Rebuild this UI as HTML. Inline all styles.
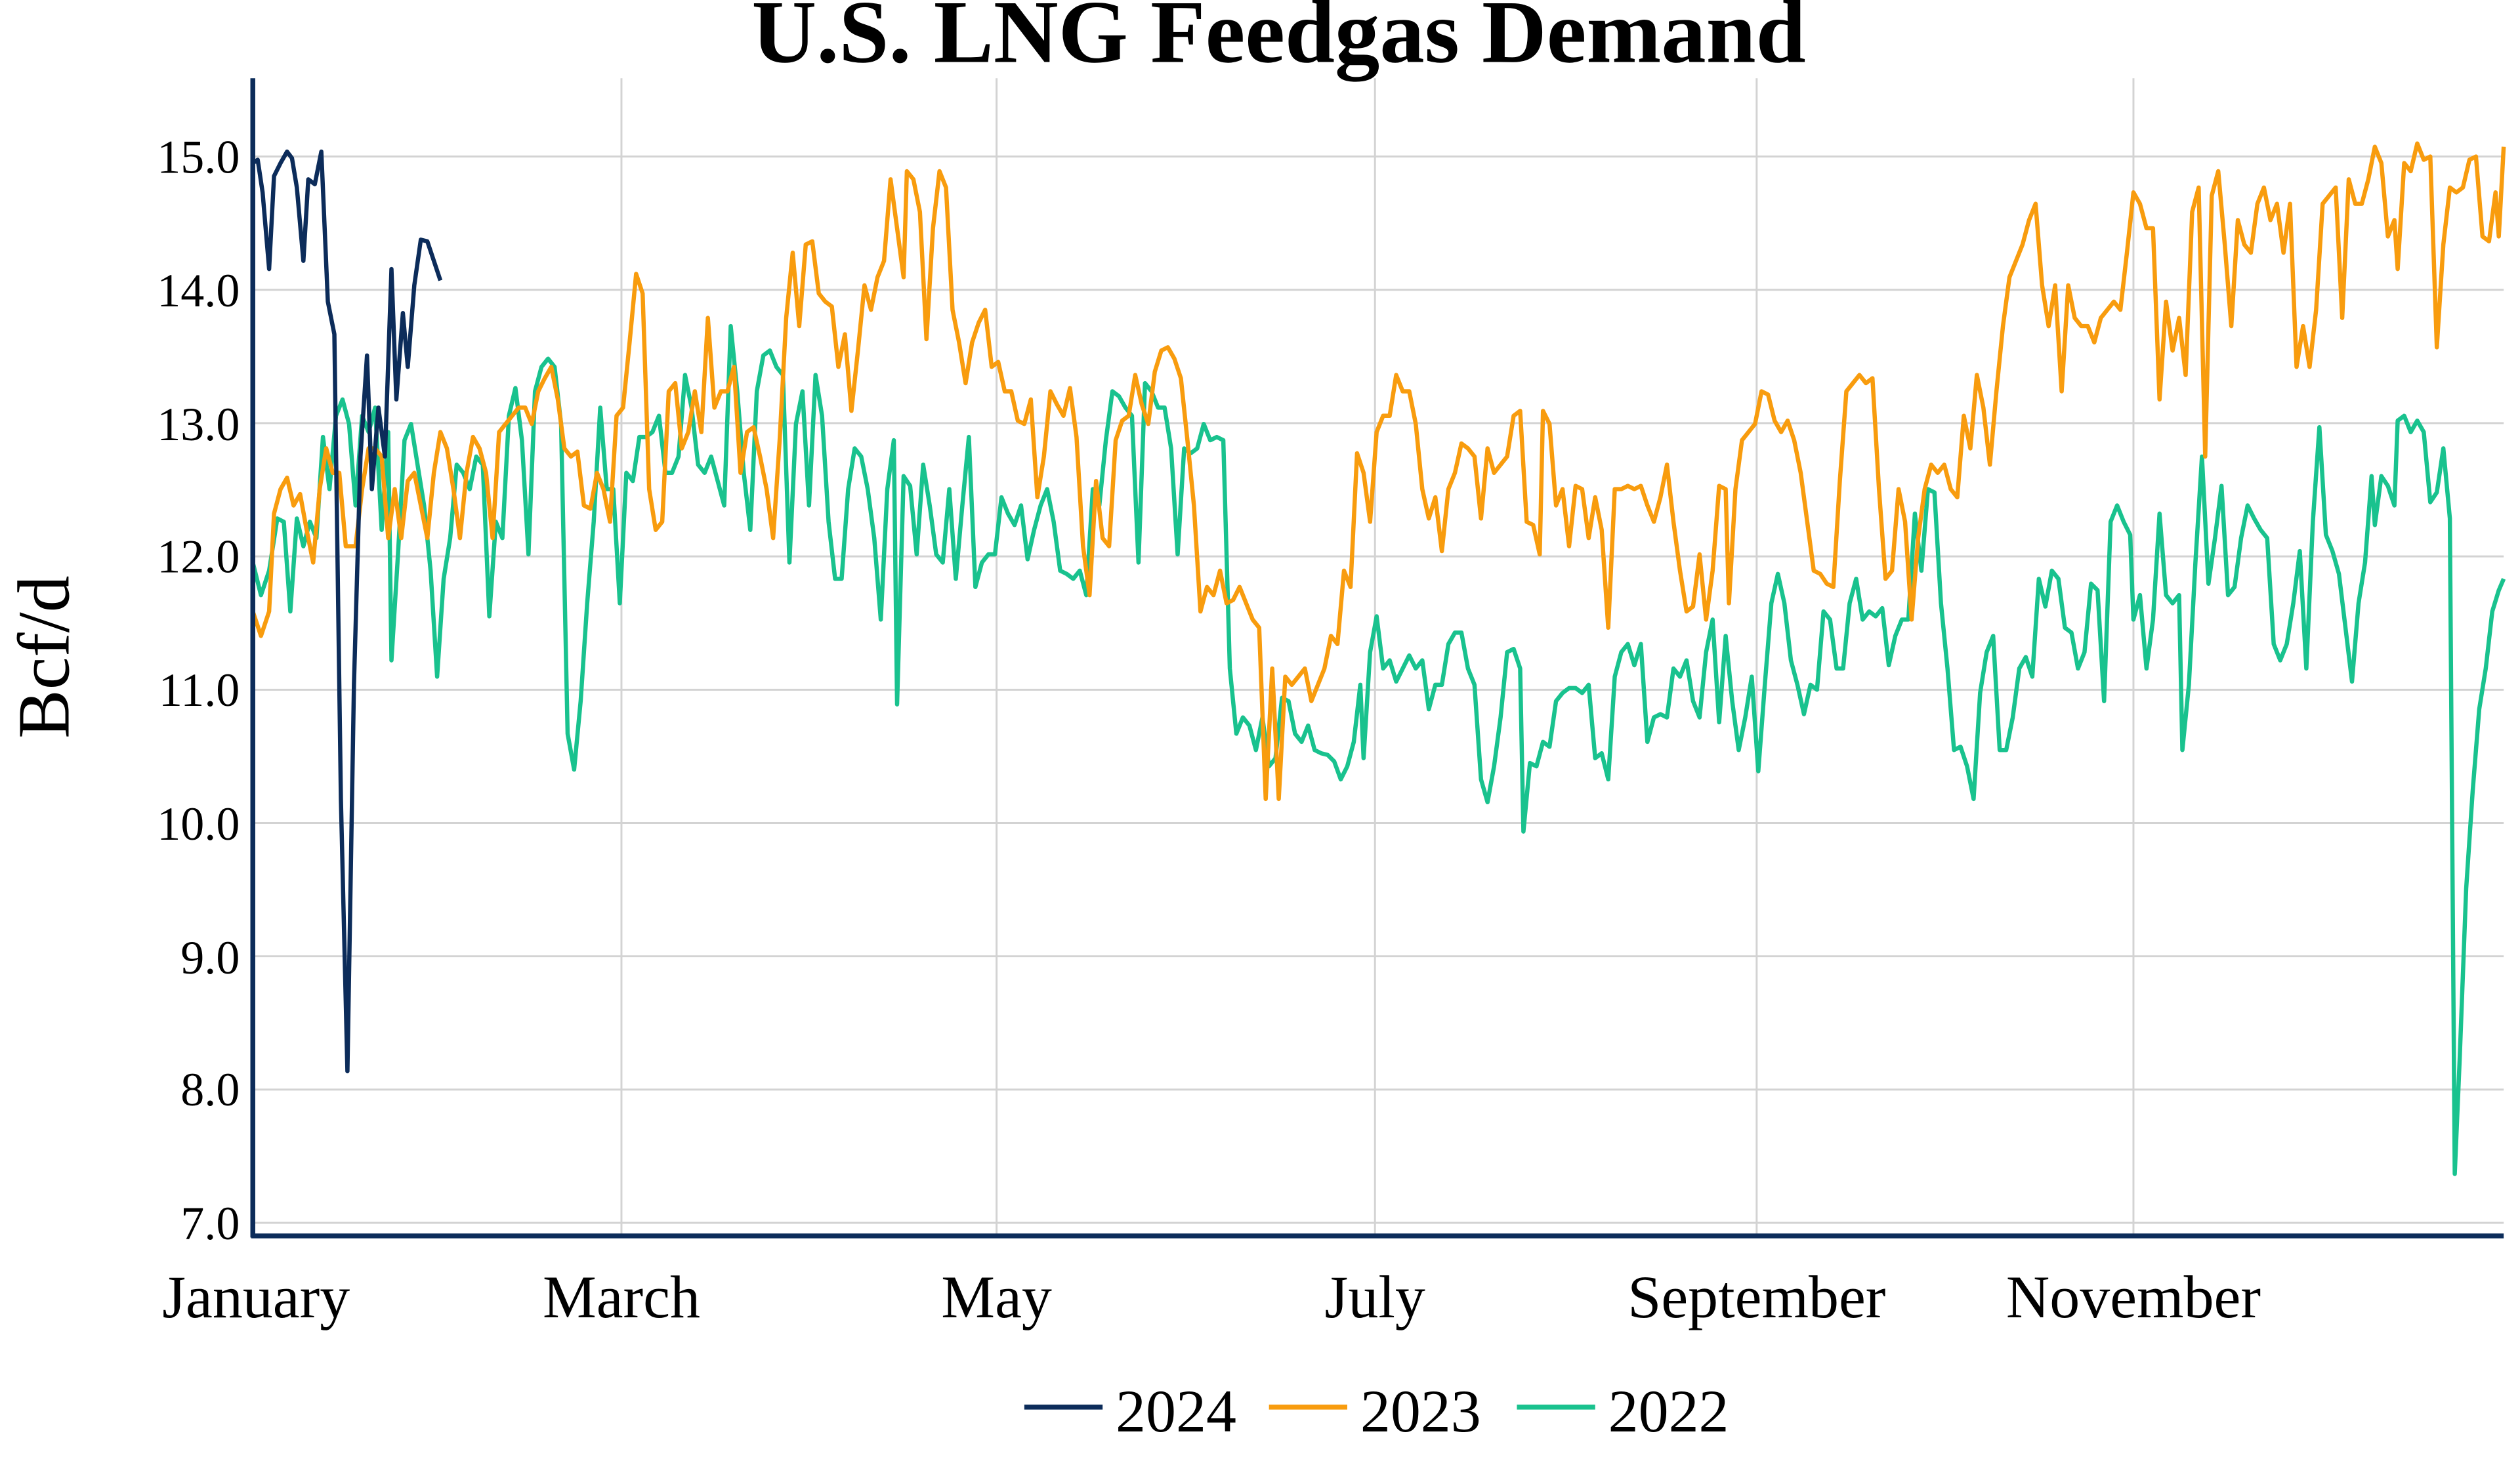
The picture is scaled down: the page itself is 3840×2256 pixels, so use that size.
<!DOCTYPE html>
<html><head><meta charset="utf-8"><style>html,body{margin:0;padding:0;background:#fff}svg{display:block}</style></head>
<body>
<svg width="3840" height="2256" viewBox="0 0 1545 907.7" preserveAspectRatio="none" xmlns="http://www.w3.org/2000/svg" font-family="Liberation Serif, serif">
<rect width="1545" height="907.7" fill="#fff"/>
<g stroke="#d3d3d3" stroke-width="1.2">
<line x1="155" x2="1535" y1="96" y2="96"/><line x1="155" x2="1535" y1="177.75" y2="177.75"/><line x1="155" x2="1535" y1="259.5" y2="259.5"/><line x1="155" x2="1535" y1="341.25" y2="341.25"/><line x1="155" x2="1535" y1="423" y2="423"/><line x1="155" x2="1535" y1="504.75" y2="504.75"/><line x1="155" x2="1535" y1="586.5" y2="586.5"/><line x1="155" x2="1535" y1="668.25" y2="668.25"/><line x1="155" x2="1535" y1="750" y2="750"/>
<line x1="381" x2="381" y1="48" y2="758"/><line x1="611" x2="611" y1="48" y2="758"/><line x1="843" x2="843" y1="48" y2="758"/><line x1="1077" x2="1077" y1="48" y2="758"/><line x1="1308" x2="1308" y1="48" y2="758"/>
</g>
<g fill="none" stroke-width="2.6" stroke-linejoin="round">
<polyline stroke="#19c28e" points="155,345 160,365 165,350 170,318 174,320 178,375 182,318 186,335 190,320 194,330 198,268 202,300 206,255 210,245 214,260 218,310 222,255 226,265 230,250 234,325 238,265 240,405 244,340 248,270 252,260 256,285 260,310 264,350 268,415 272,355 276,330 280,285 284,290 288,300 292,280 296,285 300,378 304,320 308,330 312,255 316,238 320,270 324,340 328,240 332,225 336,220 340,225 344,260 348,450 352,472 356,430 360,370 364,320 368,250 372,300 376,300 380,370 384,290 388,295 392,268 396,268 400,265 404,255 408,290 412,290 416,280 420,230 424,250 428,285 432,290 436,280 440,295 444,310 448,200 452,240 456,290 460,325 464,240 468,218 472,215 476,225 480,230 484,345 488,260 492,240 496,310 500,230 504,255 508,320 512,355 516,355 520,300 524,275 528,280 532,300 536,330 540,380 544,300 548,270 550,432 554,292 558,298 562,340 566,285 570,310 574,340 578,345 582,300 586,355 590,310 594,268 598,360 602,345 606,340 610,340 614,305 618,315 622,322 626,310 630,343 634,325 638,310 642,300 646,320 650,350 654,352 658,355 662,350 666,365 670,300 674,310 678,270 682,240 686,243 690,250 694,255 698,345 702,235 706,240 710,250 714,250 718,275 722,340 726,275 730,278 734,275 738,260 742,270 746,268 750,270 754,410 758,450 762,440 766,445 770,460 774,440 778,470 782,465 786,428 790,430 794,450 798,455 802,445 806,460 810,462 814,463 818,467 822,478 826,470 830,455 834,420 836,465 840,400 844,378 848,410 852,405 856,418 860,410 864,402 868,410 872,405 876,435 880,420 884,420 888,395 892,388 896,388 900,410 904,420 908,478 912,492 916,470 920,440 924,400 928,398 932,410 934,510 938,468 942,470 946,455 950,458 954,430 958,425 962,422 966,422 970,425 974,420 978,465 982,462 986,478 990,415 994,400 998,395 1002,408 1006,395 1010,455 1014,440 1018,438 1022,440 1026,410 1030,415 1034,405 1038,430 1042,440 1046,400 1050,380 1054,443 1058,390 1062,430 1066,460 1070,440 1074,415 1078,473 1082,420 1086,370 1090,352 1094,370 1098,405 1102,420 1106,438 1110,420 1114,423 1118,375 1122,380 1126,410 1130,410 1134,370 1138,355 1142,380 1146,375 1150,378 1154,373 1158,408 1162,390 1166,380 1170,380 1174,315 1178,350 1182,300 1186,302 1190,370 1194,410 1198,460 1202,458 1206,470 1210,490 1214,425 1218,400 1222,390 1226,460 1230,460 1234,440 1238,410 1242,403 1246,415 1250,355 1254,372 1258,350 1262,355 1266,385 1270,388 1274,410 1278,400 1282,358 1286,362 1290,430 1294,320 1298,310 1302,320 1306,328 1308,380 1312,365 1316,410 1320,380 1324,315 1328,365 1332,370 1336,365 1338,460 1342,420 1346,345 1350,280 1354,358 1358,330 1362,298 1366,365 1370,360 1374,330 1378,310 1382,318 1386,325 1390,330 1394,395 1398,405 1402,395 1406,370 1410,338 1414,410 1418,320 1422,262 1426,328 1430,338 1434,352 1438,385 1442,418 1446,370 1450,345 1454,292 1456,322 1460,292 1464,298 1468,310 1470,258 1474,255 1478,265 1482,258 1486,265 1490,308 1494,302 1498,275 1502,318 1505,720 1508,650 1512,545 1516,485 1520,435 1524,410 1528,375 1532,362 1535,355"/>
<polyline stroke="#f89c0e" points="155,375 160,390 165,375 168,315 172,300 176,293 180,310 184,303 188,325 192,345 196,300 200,275 204,290 208,290 212,335 218,335 222,300 226,275 230,275 234,280 238,330 242,300 246,330 250,295 254,290 258,310 262,330 266,290 270,265 274,275 278,300 282,330 286,290 290,268 294,275 298,290 302,330 306,265 310,260 314,255 318,250 322,250 326,260 330,240 334,232 338,225 342,245 346,275 350,280 354,277 358,310 362,312 366,290 370,300 374,320 378,255 382,250 386,210 390,168 394,180 398,300 402,325 406,320 410,240 414,235 418,275 422,265 426,240 430,265 434,195 438,250 442,240 446,240 450,225 454,290 458,265 462,262 466,280 470,300 474,330 478,270 482,195 486,155 490,200 494,150 498,148 502,180 506,185 510,188 514,225 518,205 522,252 526,215 530,175 534,190 538,170 542,160 546,110 550,140 554,170 556,105 560,110 564,130 568,208 572,140 576,105 580,115 584,190 588,210 592,235 596,210 600,198 604,190 608,225 612,222 616,240 620,240 624,258 628,260 632,245 636,305 640,280 644,240 648,248 652,255 656,238 660,268 664,335 668,365 672,295 676,330 680,335 684,270 688,258 692,255 696,230 700,248 704,260 708,228 712,215 716,213 720,220 724,232 728,270 732,310 736,375 740,360 744,365 748,350 752,370 756,368 760,360 764,370 768,380 772,385 776,490 780,410 784,490 788,415 792,420 796,415 800,410 804,430 808,420 812,410 816,390 820,395 824,350 828,360 832,278 836,290 840,320 844,265 848,255 852,255 856,230 860,240 864,240 868,260 872,300 876,318 880,305 884,338 888,300 892,290 896,272 900,275 904,280 908,318 912,275 916,290 920,285 924,280 928,255 932,252 936,320 940,322 944,340 946,252 950,260 954,310 958,300 962,335 966,298 970,300 974,330 978,305 982,325 986,385 990,300 994,300 998,298 1002,300 1006,298 1010,310 1014,320 1018,305 1022,285 1026,320 1030,350 1034,375 1038,372 1042,340 1046,380 1050,350 1054,298 1058,300 1060,370 1064,300 1068,270 1072,265 1076,260 1080,240 1084,242 1088,258 1092,265 1096,258 1100,270 1104,290 1108,320 1112,350 1116,352 1120,358 1124,360 1128,295 1132,240 1136,235 1140,230 1144,235 1148,232 1152,300 1156,355 1160,350 1164,300 1168,320 1172,380 1176,330 1180,300 1184,285 1188,290 1192,285 1196,300 1200,305 1204,255 1208,275 1212,230 1216,250 1220,285 1224,240 1228,200 1232,170 1236,160 1240,150 1244,135 1248,125 1252,175 1256,200 1260,175 1264,240 1268,175 1272,195 1276,200 1280,200 1284,210 1288,195 1292,190 1296,185 1300,190 1304,155 1308,118 1312,125 1316,140 1320,140 1324,245 1328,185 1332,215 1336,195 1340,230 1344,130 1348,115 1352,280 1356,120 1360,105 1364,150 1368,200 1372,135 1376,150 1380,155 1384,125 1388,115 1392,135 1396,125 1400,155 1404,125 1408,225 1412,200 1416,225 1420,190 1424,125 1428,120 1432,115 1436,195 1440,110 1444,125 1448,125 1452,110 1456,90 1460,100 1464,145 1468,135 1470,165 1474,100 1478,105 1482,88 1486,98 1490,96 1494,213 1498,150 1502,115 1506,118 1510,115 1514,98 1518,96 1522,145 1526,148 1530,118 1532,145 1535,90"/>
<polyline stroke="#0c2c5a" points="155,100 158,98 161,118 165,165 168,108 172,100 176,93 179,97 182,115 186,160 189,110 193,113 197,93 201,185 205,205 209,490 213,657 217,420 221,280 225,218 228,300 232,250 236,280 240,165 243,245 247,192 250,225 254,175 258,147 262,148 266,160 270,172"/>
</g>
<line x1="155" x2="155" y1="48" y2="759" stroke="#0c2c5a" stroke-width="3"/>
<line x1="154" x2="1535" y1="758" y2="758" stroke="#0c2c5a" stroke-width="3"/>
<g font-size="29" fill="#000" text-anchor="end">
<text x="147" y="106">15.0</text><text x="147" y="188">14.0</text><text x="147" y="270">13.0</text><text x="147" y="351">12.0</text><text x="147" y="433">11.0</text><text x="147" y="515">10.0</text><text x="147" y="597">9.0</text><text x="147" y="678">8.0</text><text x="147" y="760">7.0</text>
</g>
<g font-size="37" fill="#000" text-anchor="middle">
<text x="157" y="808">January</text><text x="381" y="808">March</text><text x="611" y="808">May</text><text x="843" y="808">July</text><text x="1077" y="808">September</text><text x="1308" y="808">November</text>
</g>
<text transform="translate(42,403) rotate(-90)" font-size="45" text-anchor="middle">Bcf/d</text>
<text x="784" y="38" font-size="55" font-weight="bold" text-anchor="middle">U.S. LNG Feedgas Demand</text>
<g font-size="37">
<line x1="628" x2="676" y1="863" y2="863" stroke="#0c2c5a" stroke-width="3"/><text x="684" y="878">2024</text>
<line x1="778" x2="826" y1="863" y2="863" stroke="#f89c0e" stroke-width="3"/><text x="834" y="878">2023</text>
<line x1="930" x2="978" y1="863" y2="863" stroke="#19c28e" stroke-width="3"/><text x="986" y="878">2022</text>
</g>
</svg>
</body></html>
